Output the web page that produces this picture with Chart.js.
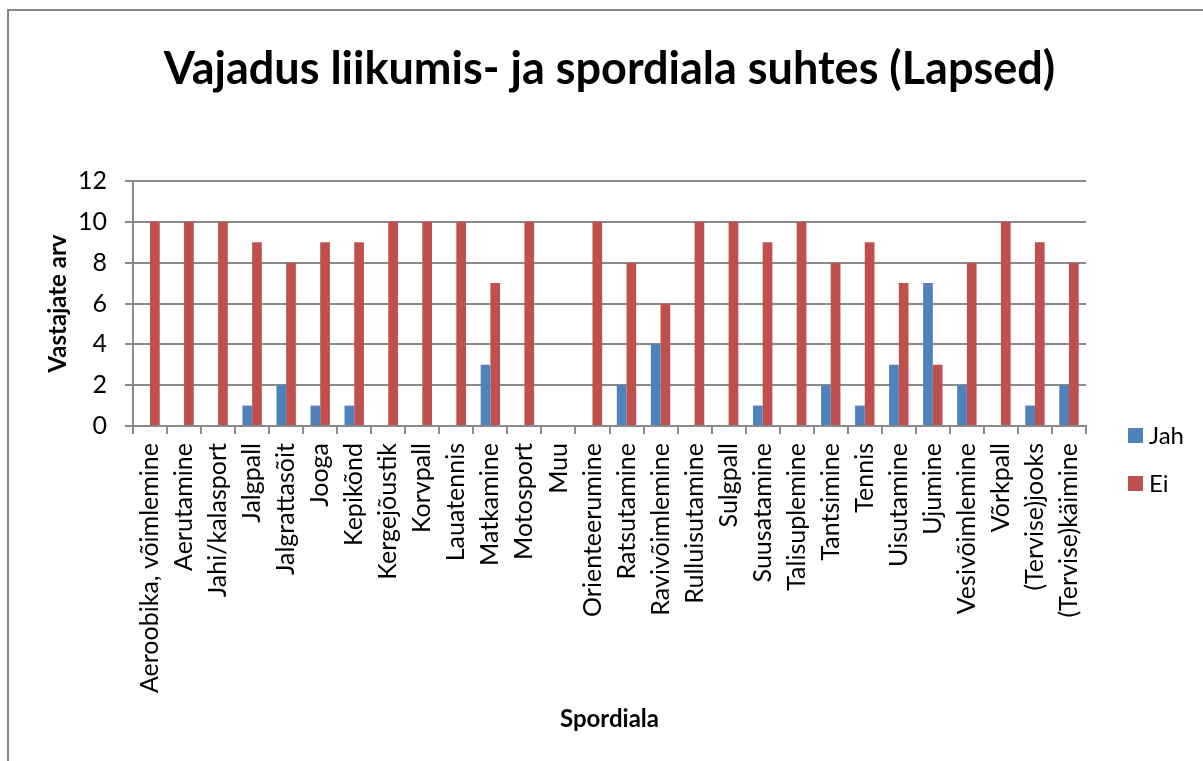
<!DOCTYPE html>
<html>
<head>
<meta charset="utf-8">
<script src="https://cdn.jsdelivr.net/npm/chart.js@4.4.1/dist/chart.umd.min.js"></script>
<style>
  html, body { margin: 0; padding: 0; background: #fff; }
  #wrap { width: 1203px; height: 761px; position: relative; }
</style>
</head>
<body>
<div id="wrap"><canvas id="chart" width="1203" height="761"></canvas></div>
<script>
const categories = [
  'Aeroobika, võimlemine', 'Aerutamine', 'Jahi/kalasport', 'Jalgpall', 'Jalgrattasõit',
  'Jooga', 'Kepikõnd', 'Kergejõustik', 'Korvpall', 'Lauatennis', 'Matkamine', 'Motosport',
  'Muu', 'Orienteerumine', 'Ratsutamine', 'Ravivõimlemine', 'Rulluisutamine', 'Sulgpall',
  'Suusatamine', 'Talisuplemine', 'Tantsimine', 'Tennis', 'Uisutamine', 'Ujumine',
  'Vesivõimlemine', 'Võrkpall', '(Tervise)jooks', '(Tervise)käimine'
];
const jah = [0, 0, 0, 1, 2, 1, 1, 0, 0, 0, 3, 0, 0, 0, 2, 4, 0, 0, 1, 0, 2, 1, 3, 7, 2, 0, 1, 2];
const ei  = [10, 10, 10, 9, 8, 9, 9, 10, 10, 10, 7, 10, 0, 10, 8, 6, 10, 10, 9, 10, 8, 9, 7, 3, 8, 10, 9, 8];
const seriesNames = ['Jah', 'Ei'];
const seriesColors = ['#4f81bd', '#c0504d'];

const FONT = 'Lato, "Open Sans", sans-serif';
const gridColor = '#8a8a8a';

// white background + chart-area frame (cut off at right/bottom like the original)
const frame = {
  id: 'frame',
  beforeDraw(chart) {
    const c = chart.ctx;
    c.save();
    c.fillStyle = '#fff';
    c.fillRect(0, 0, chart.width, chart.height);
    c.strokeStyle = '#868686';
    c.lineWidth = 2;
    c.beginPath();
    c.moveTo(8, chart.height + 5);
    c.lineTo(8, 10);
    c.lineTo(chart.width + 5, 10);
    c.stroke();
    c.restore();
  }
};

// legend drawn to the right of the plot
const sideLegend = {
  id: 'sideLegend',
  afterDraw(chart) {
    const c = chart.ctx;
    const x = chart.chartArea.right + 42;
    c.save();
    c.font = '24px ' + FONT;
    c.textBaseline = 'middle';
    c.textAlign = 'left';
    chart.data.datasets.forEach((ds, i) => {
      const y = 428 + i * 48;
      c.fillStyle = ds.backgroundColor;
      c.fillRect(x, y, 15, 15);
      c.fillStyle = '#000';
      c.fillText(ds.label, x + 21, y + 8);
    });
    c.restore();
  }
};

new Chart(document.getElementById('chart'), {
  type: 'bar',
  data: {
    labels: categories,
    datasets: [
      { label: seriesNames[0], data: jah, backgroundColor: seriesColors[0] },
      { label: seriesNames[1], data: ei, backgroundColor: seriesColors[1] }
    ]
  },
  options: {
    responsive: false,
    animation: false,
    categoryPercentage: 0.57,
    barPercentage: 1,
    layout: { padding: { left: 16, right: 0, top: 0, bottom: 0 } },
    plugins: {
      legend: { display: false },
      tooltip: { enabled: false },
      title: {
        display: true,
        text: 'Vajadus liikumis- ja spordiala suhtes (Lapsed)',
        color: '#000',
        font: { family: FONT, size: 45, weight: 'bold' },
        padding: { top: 42, bottom: 85 }
      }
    },
    scales: {
      x: {
        grid: { display: true, drawOnChartArea: false, drawTicks: true, tickLength: 8, color: gridColor, lineWidth: 2, offset: true },
        border: { display: true, color: gridColor, width: 2 },
        ticks: {
          autoSkip: false, minRotation: 90, maxRotation: 90, padding: 9,
          color: '#000', font: { family: FONT, size: 25 }
        },
        title: {
          display: true, text: 'Spordiala', color: '#000',
          font: { family: FONT, size: 24, weight: 'bold' },
          padding: { top: 4, bottom: 27 }
        },
        afterFit(s) { s.height = 335; }
      },
      y: {
        min: 0, max: 12,
        grid: { color: gridColor, lineWidth: 2, tickLength: 8 },
        border: { display: true, color: gridColor, width: 2 },
        ticks: { stepSize: 2, padding: 18, color: '#000', font: { family: FONT, size: 25 } },
        title: {
          display: true, text: 'Vastajate arv', color: '#000',
          font: { family: FONT, size: 24, weight: 'bold' },
          padding: { top: 28, bottom: 4 }
        },
        afterFit(s) { s.width = 117; }
      },
      yRight: {
        position: 'right',
        display: true,
        grid: { display: false },
        border: { display: false },
        ticks: { display: false },
        afterFit(s) { s.width = 117; }
      }
    }
  },
  plugins: [frame, sideLegend]
});
</script>
</body>
</html>
